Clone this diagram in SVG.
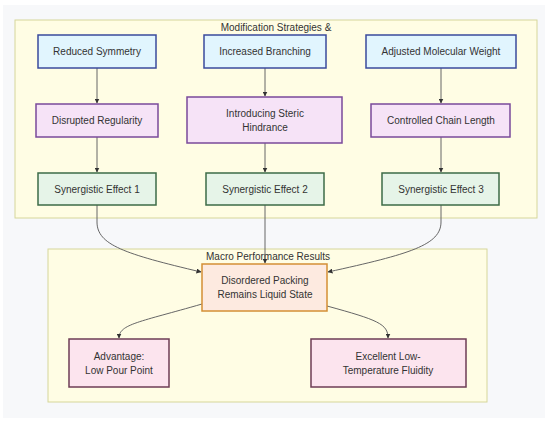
<svg xmlns="http://www.w3.org/2000/svg" width="550" height="422" viewBox="0 0 550 422">
<defs>
<style>
text{font-family:"Liberation Sans","DejaVu Sans",sans-serif;font-size:10px;fill:#333;text-anchor:middle;dominant-baseline:central}
.cl{fill:#fffde4;stroke:#d6d69a;stroke-width:1}
.blue{fill:#e1f5fe;stroke:#3a4a9c;stroke-width:1.5}
.purp{fill:#f6e3f7;stroke:#7a4a9a;stroke-width:1.5}
.green{fill:#e6f4e8;stroke:#3d6b47;stroke-width:1.5}
.orange{fill:#fdeae0;stroke:#d48f35;stroke-width:1.5}
.pink{fill:#fce4ee;stroke:#6e3d55;stroke-width:1.5}
.e{fill:none;stroke:#666;stroke-width:1}
</style>
<marker id="ah" viewBox="0 0 10 10" refX="9" refY="5" markerWidth="5" markerHeight="5" orient="auto"><path d="M0,0 L10,5 L0,10 z" fill="#333"/></marker>
</defs>
<rect x="0" y="0" width="550" height="422" fill="#fff"/>
<rect x="3" y="5" width="542" height="413" fill="#f7f8fa"/>
<g id="cluster1"><rect class="cl" x="15" y="20" width="522" height="198"/><text x="276" y="27">Modification Strategies &amp;</text></g>
<g id="cluster2"><rect class="cl" x="48" y="249" width="439" height="153"/><text x="268" y="256">Macro Performance Results</text></g>
<g id="connectors">
<path class="e" d="M97,68 V103" marker-end="url(#ah)"/>
<path class="e" d="M265,68 V96" marker-end="url(#ah)"/>
<path class="e" d="M441,68 V103" marker-end="url(#ah)"/>
<path class="e" d="M97,137 V172" marker-end="url(#ah)"/>
<path class="e" d="M265,143 V172" marker-end="url(#ah)"/>
<path class="e" d="M441,137 V172" marker-end="url(#ah)"/>
<path class="e" d="M97,205 V222 C97,245 125,254 201,272" marker-end="url(#ah)"/>
<path class="e" d="M265,205 V263" marker-end="url(#ah)"/>
<path class="e" d="M441,205 V222 C441,245 410,254 328,272" marker-end="url(#ah)"/>
<path class="e" d="M202,304 C140,322 119,324 119,338" marker-end="url(#ah)"/>
<path class="e" d="M327,306 C378,320 388,324 388,338" marker-end="url(#ah)"/>
</g>
<g id="n1"><rect class="blue" x="38" y="35" width="118" height="33"/><text x="97" y="51.5">Reduced Symmetry</text></g>
<g id="n2"><rect class="blue" x="204" y="35" width="122" height="33"/><text x="265" y="51.5">Increased Branching</text></g>
<g id="n3"><rect class="blue" x="366" y="35" width="150" height="33"/><text x="441" y="51.5">Adjusted Molecular Weight</text></g>
<g id="n4"><rect class="purp" x="36" y="104" width="122" height="33"/><text x="97" y="120.5">Disrupted Regularity</text></g>
<g id="n5"><rect class="purp" x="187" y="97" width="155" height="46"/><text x="265" y="113">Introducing Steric</text><text x="265" y="127">Hindrance</text></g>
<g id="n6"><rect class="purp" x="371" y="104" width="139" height="33"/><text x="441" y="120.5">Controlled Chain Length</text></g>
<g id="n7"><rect class="green" x="38" y="173" width="118" height="32"/><text x="97" y="189">Synergistic Effect 1</text></g>
<g id="n8"><rect class="green" x="206" y="173" width="118" height="32"/><text x="265" y="189">Synergistic Effect 2</text></g>
<g id="n9"><rect class="green" x="382" y="173" width="117" height="32"/><text x="441" y="189">Synergistic Effect 3</text></g>
<g id="n10"><rect class="orange" x="202" y="264" width="125" height="47"/><text x="265" y="280">Disordered Packing</text><text x="265" y="294">Remains Liquid State</text></g>
<g id="n11"><rect class="pink" x="69" y="339" width="100" height="48"/><text x="119" y="356">Advantage:</text><text x="119" y="370">Low Pour Point</text></g>
<g id="n12"><rect class="pink" x="311" y="339" width="155" height="48"/><text x="388" y="356">Excellent Low-</text><text x="388" y="370">Temperature Fluidity</text></g>
</svg>
